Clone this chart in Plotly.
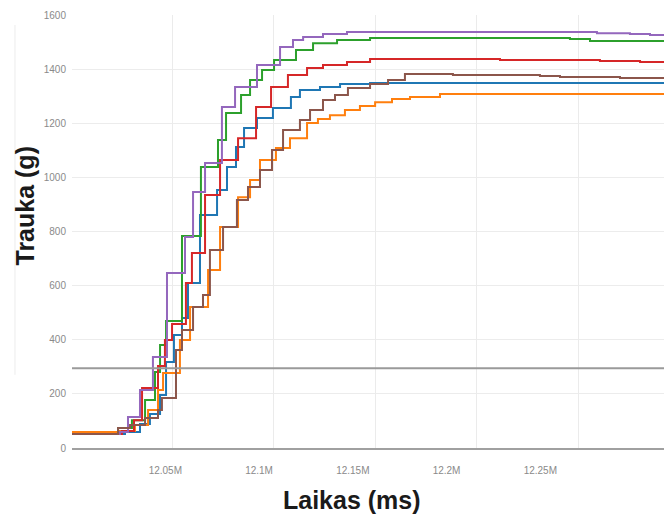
import plotly.graph_objects as go

# ---- data (time in ms, force in g) ----
t_blue = [12000250, 12028500, 12036500, 12041800, 12047200, 12050400, 12054600, 12058900, 12062100, 12068500,
          12077600, 12082900, 12087700, 12092000, 12098900, 12107400, 12117000, 12121800, 12132500, 12143200,
          12159200, 12318000]
g_blue = [52, 59, 89, 126, 196, 318, 418, 480, 610, 861, 953, 1038, 1112, 1182, 1219, 1256, 1297, 1323, 1334, 1345,
          1349, 1349]

t_orange = [12000250, 12025800, 12033800, 12040800, 12046100, 12048800, 12057800, 12063200, 12072800, 12079200,
            12088800, 12095200, 12100500, 12109000, 12116500, 12125600, 12131400, 12137800, 12145800, 12153800,
            12161900, 12170900, 12180500, 12196500, 12318000]
g_orange = [59, 63, 85, 140, 214, 277, 399, 521, 658, 817, 927, 990, 1064, 1109, 1145, 1201, 1216, 1230, 1249, 1264,
            1278, 1290, 1297, 1308, 1308]

t_green = [12000250, 12024800, 12032200, 12039200, 12044500, 12047200, 12050400, 12058900, 12069000, 12078100,
           12082400, 12090400, 12095200, 12101600, 12108000, 12119700, 12128800, 12141600, 12159200, 12265800,
           12276500, 12318000]
g_green = [52, 74, 103, 177, 281, 381, 469, 783, 1038, 1138, 1238, 1304, 1360, 1397, 1434, 1471, 1496, 1508, 1515,
           1511, 1504, 1504]

t_red = [12000250, 12026900, 12033300, 12037600, 12046100, 12049800, 12053600, 12061000, 12064200, 12071200,
         12079200, 12088800, 12098400, 12106400, 12115400, 12125600, 12134100, 12146900, 12159200, 12228500,
         12281800, 12303200, 12318000]
g_red = [52, 63, 103, 222, 303, 399, 458, 610, 721, 935, 1064, 1145, 1260, 1334, 1378, 1404, 1415, 1426, 1437, 1434,
         1430, 1426, 1426]

t_purple = [12000250, 12025800, 12030100, 12036500, 12043400, 12050900, 12060500, 12064800, 12071200, 12080200,
            12087200, 12098900, 12111200, 12118100, 12123500, 12134100, 12146900, 12280200, 12297800, 12308500,
            12318000]
g_purple = [52, 59, 115, 214, 336, 647, 780, 946, 1053, 1260, 1334, 1415, 1482, 1508, 1519, 1530, 1537, 1533, 1530,
            1526, 1526]

t_brown = [12000250, 12024800, 12031200, 12039200, 12046100, 12048200, 12055700, 12058900, 12064800, 12070100,
           12073800, 12080800, 12088200, 12094100, 12100500, 12106900, 12112800, 12121800, 12127200, 12134100,
           12140500, 12147400, 12159200, 12168800, 12177800, 12203400, 12249800, 12260500, 12292500, 12318000]
g_brown = [52, 74, 85, 111, 140, 185, 362, 436, 521, 565, 732, 817, 916, 964, 1027, 1101, 1175, 1212, 1249, 1286,
           1304, 1330, 1345, 1360, 1382, 1378, 1375, 1371, 1367, 1367]

threshold_g = 295

x_tickvals = [12050000, 12100000, 12150000, 12200000, 12250000]
x_ticktext = ["12.05M", "12.1M", "12.15M", "12.2M", "12.25M"]
y_tickvals = [0, 200, 400, 600, 800, 1000, 1200, 1400, 1600]

series = [
    (t_blue, g_blue, "#1f77b4"),
    (t_orange, g_orange, "#ff7f0e"),
    (t_green, g_green, "#2ca02c"),
    (t_red, g_red, "#d62728"),
    (t_purple, g_purple, "#9467bd"),
    (t_brown, g_brown, "#8c564b"),
]

fig = go.Figure()
# empty trace so the overlaid grid axis (xaxis2) is drawn
fig.add_trace(go.Scatter(x=x_tickvals, y=[None] * len(x_tickvals), xaxis="x2", yaxis="y",
                         mode="lines", showlegend=False, hoverinfo="skip"))
for t, g, c in series:
    fig.add_trace(go.Scatter(x=t, y=g, mode="lines", line=dict(color=c, width=2, shape="hv"),
                             showlegend=False, hoverinfo="skip"))

tick_font = dict(family="Liberation Sans, Arial, sans-serif", size=10, color="#8a8a8a")
title_font = dict(family="Liberation Sans, Arial, sans-serif", size=25, color="#1a1a1a")

fig.update_layout(
    width=664, height=515,
    margin=dict(l=72, r=0, t=15, b=67),
    paper_bgcolor="white", plot_bgcolor="white",
    showlegend=False,
    xaxis=dict(range=[12000240, 12315970], tickvals=x_tickvals, ticktext=x_ticktext,
               showgrid=False, zeroline=False, showline=True, linecolor="#a0a0a0", linewidth=2,
               ticks="outside", ticklen=12, tickcolor="rgba(0,0,0,0)", tickfont=tick_font),
    xaxis2=dict(overlaying="x", anchor="y", side="bottom", range=[12000740, 12292360], tickvals=x_tickvals,
                showticklabels=False, showgrid=True, gridcolor="#ebebeb", gridwidth=1,
                zeroline=False, showline=False, ticks=""),
    yaxis=dict(range=[0, 1600], tickvals=y_tickvals, showgrid=True, gridcolor="#ececec", gridwidth=1,
               zeroline=False, showline=False, ticks="outside", ticklen=3, tickcolor="rgba(0,0,0,0)",
               tickfont=tick_font),
    shapes=[
        dict(type="line", xref="paper", yref="y", x0=0, x1=1, y0=threshold_g, y1=threshold_g,
             line=dict(color="#9a9a9a", width=2)),
        dict(type="line", xref="paper", yref="paper", x0=-0.0963, x1=-0.0963, y0=0.169, y1=0.977,
             line=dict(color="#ececec", width=1)),
    ],
    annotations=[
        dict(text="<b>Laikas (ms)</b>", xref="paper", yref="paper", x=0.473, y=-0.12,
             showarrow=False, xanchor="center", yanchor="middle", font=title_font),
        dict(text="<b>Trauka (g)</b>", xref="paper", yref="paper", x=-0.0794, y=0.56,
             showarrow=False, xanchor="center", yanchor="middle", textangle=-90, font=title_font),
    ],
)

fig.write_html("out.html")
